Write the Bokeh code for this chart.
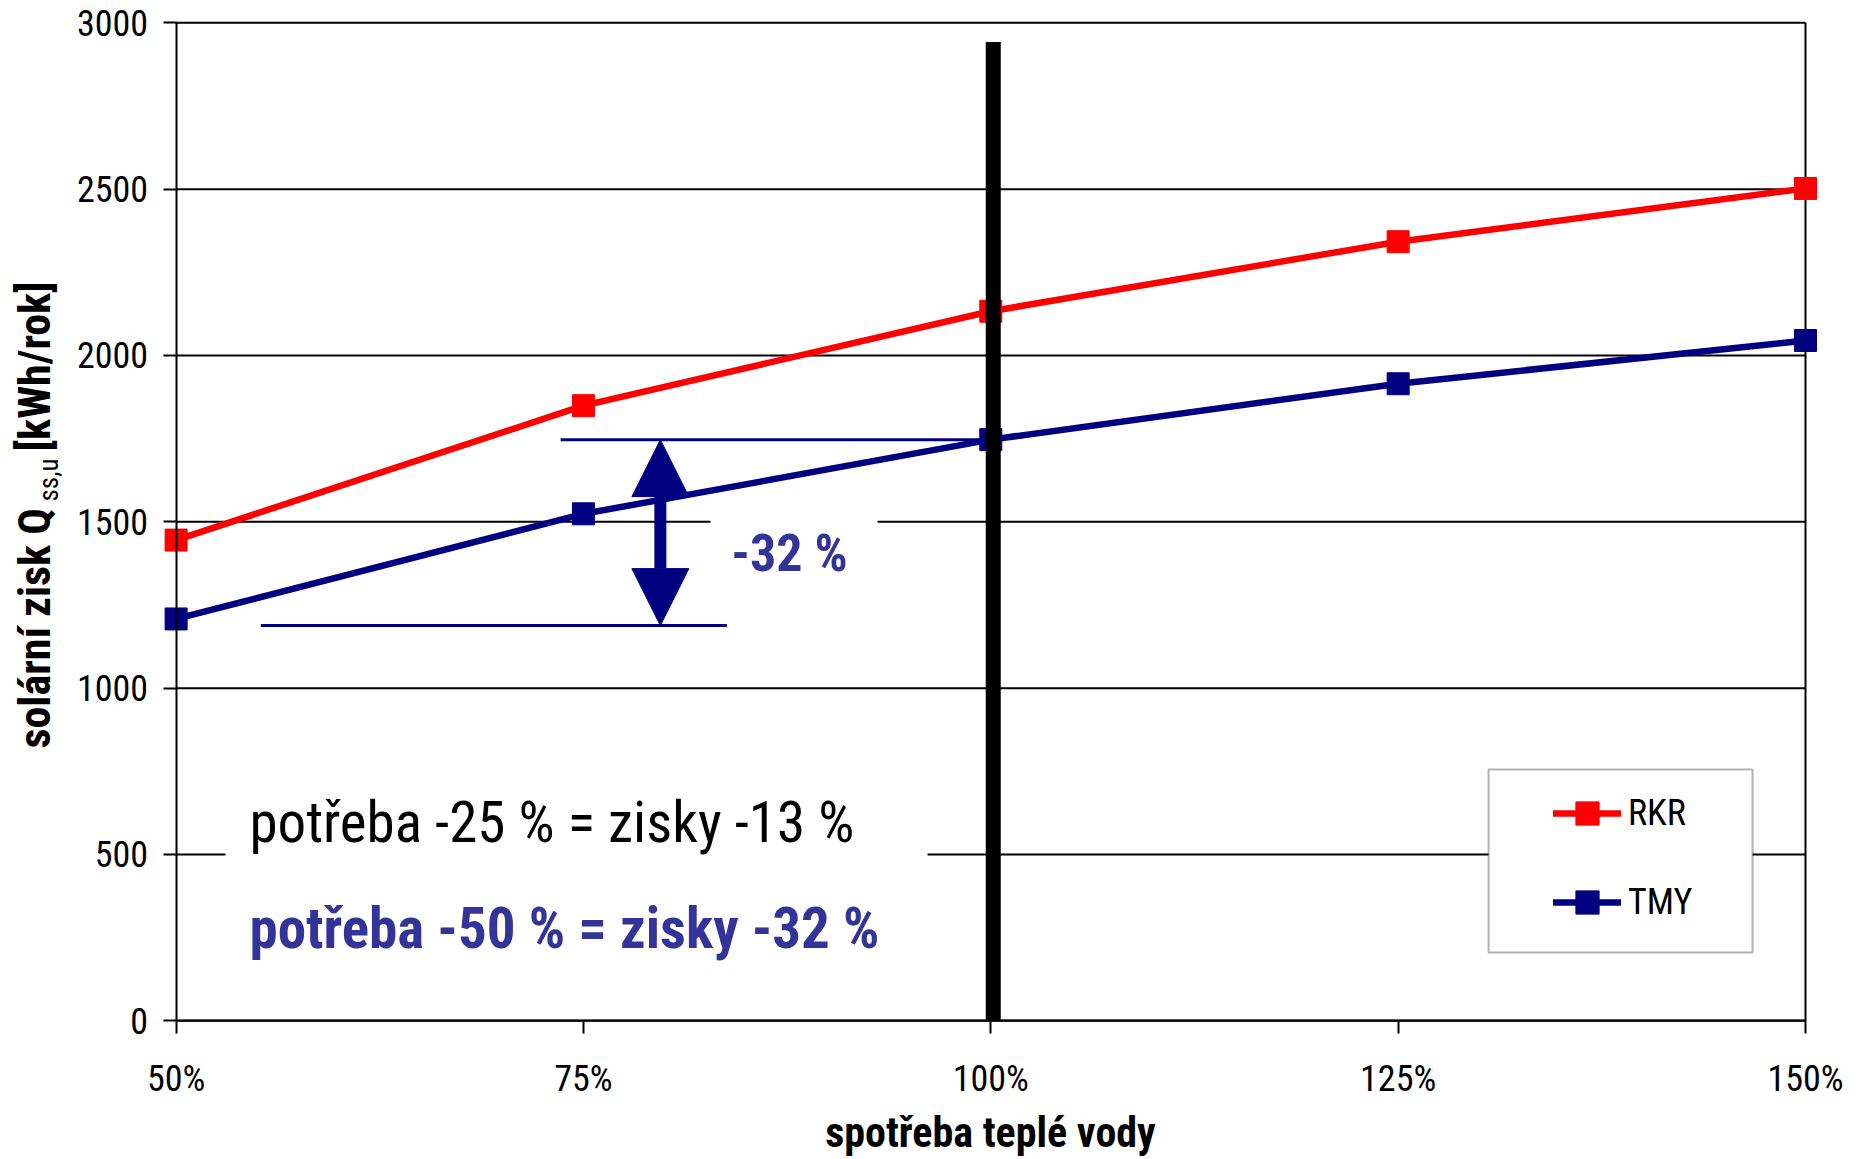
import math
from bokeh.plotting import figure
from bokeh.models import (Range1d, FixedTicker, Label, Legend, LegendItem,
                          BoxAnnotation, Arrow, NormalHead)
from bokeh.embed import file_html
from bokeh.resources import INLINE

# ---- data -------------------------------------------------------------
spotreba = [50, 75, 100, 125, 150]                 # hot-water use, % of reference
x_tick_labels = ["50%", "75%", "100%", "125%", "150%"]
rkr = [1445, 1849, 2133, 2342, 2502]               # kWh/rok, RKR weather data
tmy = [1208, 1524, 1747, 1915, 2045]               # kWh/rok, TMY weather data
y_ticks = [0, 500, 1000, 1500, 2000, 2500, 3000]
series_names = ["RKR", "TMY"]
reference_use = 100                                # %
gain_drop = 0.32                                   # relative drop of TMY gain at 50 % use

FONT = "Roboto Condensed, DejaVu Sans Condensed, Liberation Sans"
RED = "#FF0000"
NAVY = "#000080"
TEXT_BLUE = "#333399"

# ---- layout -----------------------------------------------------------
# The frame covers the whole canvas; axes are pinned inside it so that
# markers on the plot edges and the rotated axis title are not clipped.
W, H = 1859, 1159
x_lo_px, x_hi_px = 175.6, 1805.0      # pixel columns of 50 % and 150 %
y_lo_px, y_hi_px = 1020.3, 22.3       # pixel rows of 0 and 3000
ppx = (x_hi_px - x_lo_px) / (spotreba[-1] - spotreba[0])
ppy = (y_lo_px - y_hi_px) / (y_ticks[-1] - y_ticks[0])
x_start = spotreba[0] - x_lo_px / ppx
x_end = spotreba[-1] + (W - x_hi_px) / ppx
y_start = y_ticks[0] - (H - y_lo_px) / ppy
y_end = y_ticks[-1] + y_hi_px / ppy

p = figure(width=W, height=H,
           x_range=Range1d(x_start, x_end), y_range=Range1d(y_start, y_end),
           output_backend="svg", toolbar_location=None,
           min_border_left=0, min_border_right=0, min_border_top=0, min_border_bottom=0)
p.outline_line_color = None
p.xgrid.visible = False
p.ygrid.visible = False
p.background_fill_color = "white"
p.border_fill_color = "white"

# x axis at y = 0
xa = p.xaxis[0]
xa.fixed_location = y_ticks[0]
xa.ticker = FixedTicker(ticks=spotreba)
xa.major_label_overrides = {v: t for v, t in zip(spotreba, x_tick_labels)}
xa.bounds = (spotreba[0], spotreba[-1])
xa.axis_line_color = "black"
xa.axis_line_width = 2
xa.major_tick_line_width = 2
xa.major_tick_out = 13
xa.major_tick_in = 0
xa.minor_tick_line_color = None
xa.major_label_standoff = 24
xa.major_label_text_font = FONT
xa.major_label_text_font_size = "36px"
xa.major_label_text_color = "black"

# y axis at 50 %
ya = p.yaxis[0]
ya.fixed_location = spotreba[0]
ya.ticker = FixedTicker(ticks=y_ticks)
ya.bounds = (y_ticks[0], y_ticks[-1])
ya.axis_line_color = "black"
ya.axis_line_width = 2
ya.major_tick_line_width = 2
ya.major_tick_out = 13
ya.major_tick_in = 0
ya.minor_tick_line_color = None
ya.major_label_standoff = 15
ya.major_label_text_font = FONT
ya.major_label_text_font_size = "36px"
ya.major_label_text_color = "black"

# horizontal gridlines and right-hand border of the plot area
p.segment(x0=spotreba[0], x1=spotreba[-1], y0=y_ticks, y1=y_ticks,
          line_color="black", line_width=2)
p.segment(x0=spotreba[-1], x1=spotreba[-1], y0=y_ticks[0], y1=y_ticks[-1],
          line_color="black", line_width=2)

# ---- series -----------------------------------------------------------
renderers = []
for vals, color in zip([rkr, tmy], [RED, NAVY]):
    ln = p.line(spotreba, vals, line_color=color, line_width=6.5,
                line_cap="round", line_join="round")
    pts = p.scatter(spotreba, vals, marker="square", size=22,
                    fill_color=color, line_color=color, line_width=1)
    renderers.append([ln, pts])

# reference level of TMY gain and the reduced level
top_level = tmy[spotreba.index(reference_use)]
low_level = top_level * (1 - gain_drop)
p.segment(x0=[73.6, 55.2], x1=[reference_use, 83.8], y0=[top_level, low_level],
          y1=[top_level, low_level], line_color=NAVY, line_width=3)

# thick marker of the reference consumption
p.segment(x0=reference_use + 0.15, x1=reference_use + 0.15, y0=0, y1=2942,
          line_color="black", line_width=15)

# double arrow between the two levels
arrow_x = 79.72
p.add_layout(Arrow(x_start=arrow_x, y_start=low_level, x_end=arrow_x, y_end=top_level,
                   line_color=NAVY, line_width=12,
                   start=NormalHead(size=57, fill_color=NAVY, line_color=NAVY),
                   end=NormalHead(size=57, fill_color=NAVY, line_color=NAVY)))

# white backgrounds of the text boxes
p.add_layout(BoxAnnotation(left=82.8, right=93.05, bottom=1290, top=1520,
                           fill_color="white", fill_alpha=1, line_color=None))
p.add_layout(BoxAnnotation(left=53.03, right=96.12, bottom=121, top=751,
                           fill_color="white", fill_alpha=1, line_color=None))

p.add_layout(Label(x=84.07, y=1405, text="-32 %", text_font=FONT,
                   text_font_style="bold", text_font_size="52px",
                   text_color=TEXT_BLUE, text_baseline="middle"))
p.add_layout(Label(x=54.5, y=595, text="potřeba -25 % = zisky -13 %", text_font=FONT,
                   text_font_size="57px", text_color="black",
                   text_baseline="middle"))
p.add_layout(Label(x=54.5, y=277, text="potřeba -50 % = zisky -32 %", text_font=FONT,
                   text_font_style="bold", text_font_size="57px",
                   text_color=TEXT_BLUE, text_baseline="middle"))

# ---- legend -----------------------------------------------------------
p.add_layout(BoxAnnotation(left=130.55, right=146.75, bottom=205.3, top=755.3,
                           fill_color="white", fill_alpha=1,
                           line_color="black", line_width=2))
legend = Legend(items=[LegendItem(label=n, renderers=r) for n, r in zip(series_names, renderers)],
                location=(1553, H - 930.7), padding=0, margin=0, spacing=31,
                glyph_width=68, glyph_height=58, label_height=58, label_standoff=7,
                label_text_font=FONT, label_text_font_size="36px",
                label_text_color="black",
                background_fill_alpha=0, border_line_alpha=0)
p.add_layout(legend)

# ---- axis titles (screen units, y measured from the bottom) ------------
p.add_layout(Label(x=990, y=H - 1132, x_units="screen", y_units="screen",
                   text="spotřeba teplé vody", text_font=FONT, text_font_style="bold",
                   text_font_size="42px", text_align="center",
                   text_baseline="middle", text_color="black"))

# rotated title, assembled from the main text, the subscript and the unit
p.add_layout(Label(x=34.5, y=H - 748, x_units="screen", y_units="screen",
                   angle=math.pi / 2, text="solární zisk Q", text_font=FONT,
                   text_font_style="bold", text_font_size="44px",
                   text_align="left", text_baseline="middle", text_color="black"))
p.add_layout(Label(x=48, y=H - 501, x_units="screen", y_units="screen",
                   angle=math.pi / 2, text="ss,u", text_font=FONT,
                   text_font_size="27px",
                   text_align="left", text_baseline="middle", text_color="black"))
p.add_layout(Label(x=34.5, y=H - 451, x_units="screen", y_units="screen",
                   angle=math.pi / 2, text="[kWh/rok]", text_font=FONT,
                   text_font_style="bold", text_font_size="44px",
                   text_align="left", text_baseline="middle", text_color="black"))

open("out.html", "w").write(file_html(p, INLINE))
